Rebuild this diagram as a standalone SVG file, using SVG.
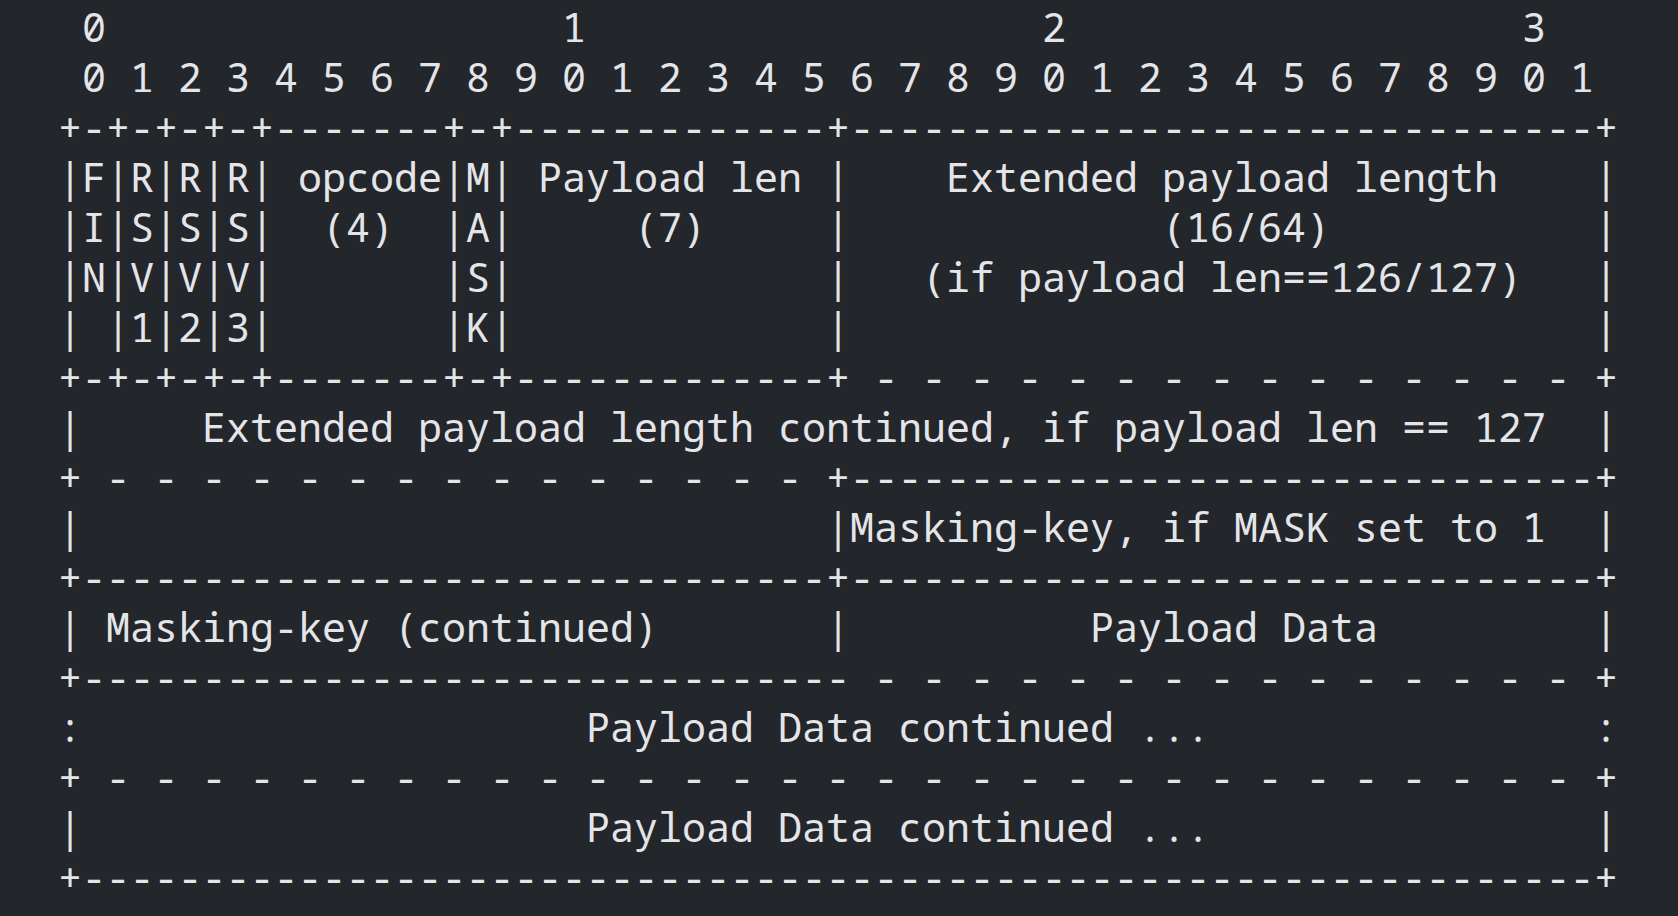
<svg xmlns="http://www.w3.org/2000/svg" width="1678" height="916" viewBox="0 0 1678 916">
<style>
.t{font-family:"Noto Sans Mono","DejaVu Sans Mono","Liberation Mono",monospace;font-size:40px;fill:#e3e5e8;white-space:pre}
</style>
<rect width="1678" height="916" fill="#23262b"/>
<g id="frame" xml:space="preserve">
<text class="t" x="58" y="42"> 0                   1                   2                   3</text>
<text class="t" x="58" y="92"> 0 1 2 3 4 5 6 7 8 9 0 1 2 3 4 5 6 7 8 9 0 1 2 3 4 5 6 7 8 9 0 1</text>
<text class="t" x="58" y="142">+-+-+-+-+-------+-+-------------+-------------------------------+</text>
<text class="t" x="58" y="192">|F|R|R|R| opcode|M| Payload len |    Extended payload length    |</text>
<text class="t" x="58" y="242">|I|S|S|S|  (4)  |A|     (7)     |             (16/64)           |</text>
<text class="t" x="58" y="292">|N|V|V|V|       |S|             |   (if payload len==126/127)   |</text>
<text class="t" x="58" y="342">| |1|2|3|       |K|             |                               |</text>
<text class="t" x="58" y="392">+-+-+-+-+-------+-+-------------+ - - - - - - - - - - - - - - - +</text>
<text class="t" x="58" y="442">|     Extended payload length continued, if payload len == 127  |</text>
<text class="t" x="58" y="492">+ - - - - - - - - - - - - - - - +-------------------------------+</text>
<text class="t" x="58" y="542">|                               |Masking-key, if MASK set to 1  |</text>
<text class="t" x="58" y="592">+-------------------------------+-------------------------------+</text>
<text class="t" x="58" y="642">| Masking-key (continued)       |          Payload Data         |</text>
<text class="t" x="58" y="692">+-------------------------------- - - - - - - - - - - - - - - - +</text>
<text class="t" x="58" y="742">:                     Payload Data continued ...                :</text>
<text class="t" x="58" y="792">+ - - - - - - - - - - - - - - - - - - - - - - - - - - - - - - - +</text>
<text class="t" x="58" y="842">|                     Payload Data continued ...                |</text>
<text class="t" x="58" y="892">+---------------------------------------------------------------+</text>
</g>
</svg>
